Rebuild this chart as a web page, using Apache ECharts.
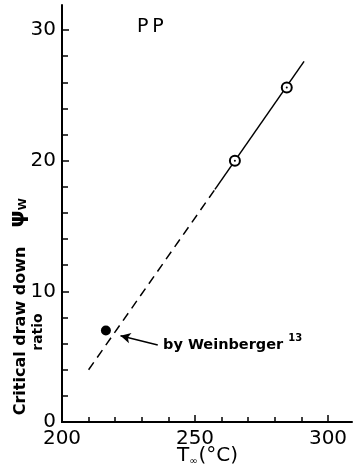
<!DOCTYPE html>
<html><head><meta charset="utf-8">
<script src="https://cdn.jsdelivr.net/npm/echarts@6/dist/echarts.min.js"></script>
<style>html,body{margin:0;padding:0;background:#fff}#c{width:357px;height:472px}</style>
</head><body><div id="c"></div>
<script>
// ---- data ----
const openPoints = [[265, 20.0], [284.5, 25.6]];
const filledPoints = [[216.5, 7.0]];
const dashedFit = [[210, 4.0], [257.5, 17.8]];
const solidFit = [[257.5, 17.8], [291, 27.6]];
const xLabelValues = [200, 250, 300];
const yLabelValues = [0, 10, 20, 30];
const arrowFrom = [236, 5.9];
const arrowTo = [222, 6.6];

const FONT = 'DejaVu Sans';
const chart = echarts.init(document.getElementById('c'), null, {renderer: 'canvas'});
const axisLineStyle = {color: '#000', width: 2};

chart.setOption({
  animation: false,
  backgroundColor: '#fff',
  grid: [
    {left: 62, right: 29, top: 30, bottom: 50},
    {left: 62, right: 5, top: 5, bottom: 50}
  ],
  xAxis: [
    {gridIndex: 0, type: 'value', min: 200, max: 300, interval: 50,
     axisLine: {show: true, lineStyle: axisLineStyle},
     axisTick: {show: true, inside: true, length: 7, lineStyle: {color: '#000', width: 1.5}},
     minorTick: {show: true, splitNumber: 5, length: 5, lineStyle: {color: '#000', width: 1.5}},
     splitLine: {show: false},
     axisLabel: {color: '#000', fontFamily: FONT, fontSize: 20, margin: 7,
       formatter: v => xLabelValues.includes(v) ? String(v) : ''}},
    {gridIndex: 1, type: 'value', min: 0, max: 1, show: true,
     axisLine: {show: true, lineStyle: axisLineStyle}, axisTick: {show: false},
     axisLabel: {show: false}, splitLine: {show: false}}
  ],
  yAxis: [
    {gridIndex: 0, type: 'value', min: 0, max: 30, interval: 10,
     axisLine: {show: true, lineStyle: axisLineStyle},
     axisTick: {show: true, inside: true, length: 7, lineStyle: {color: '#000', width: 1.5}},
     minorTick: {show: true, splitNumber: 5, length: 6, lineStyle: {color: '#000', width: 1.5}},
     splitLine: {show: false},
     axisLabel: {color: '#000', fontFamily: FONT, fontSize: 20, margin: 6,
       formatter: v => yLabelValues.includes(v) ? String(v) : ''}},
    {gridIndex: 1, type: 'value', min: 0, max: 1, show: true,
     axisLine: {show: true, lineStyle: axisLineStyle}, axisTick: {show: false},
     axisLabel: {show: false}, splitLine: {show: false}}
  ],
  series: [
    {type: 'line', xAxisIndex: 0, yAxisIndex: 0, data: dashedFit, symbol: 'none',
     lineStyle: {color: '#000', width: 1.5, type: [9, 6]}, z: 2},
    {type: 'line', xAxisIndex: 0, yAxisIndex: 0, data: solidFit, symbol: 'none',
     lineStyle: {color: '#000', width: 1.5}, z: 2},
    {type: 'scatter', xAxisIndex: 0, yAxisIndex: 0, data: openPoints, symbol: 'circle',
     symbolSize: 10, itemStyle: {color: '#fff', borderColor: '#000', borderWidth: 2, opacity: 1}, z: 3},
    {type: 'scatter', xAxisIndex: 0, yAxisIndex: 0, data: openPoints, symbol: 'circle',
     symbolSize: 2, itemStyle: {color: '#000', opacity: 1}, z: 4},
    {type: 'scatter', xAxisIndex: 0, yAxisIndex: 0, data: filledPoints, symbol: 'circle',
     symbolSize: 10, itemStyle: {color: '#000', opacity: 1}, z: 3,
     markLine: {silent: true, symbol: ['none', 'arrow'], symbolSize: [8, 10],
       label: {show: false},
       lineStyle: {color: '#000', width: 1.5, type: 'solid', opacity: 1},
       data: [[{coord: arrowFrom}, {coord: arrowTo}]]}}
  ],
  graphic: [
    {type: 'text', left: 137, top: 18, style: {text: 'P\u2009P', font: '19px "DejaVu Sans"', fill: '#000'}},
    {type: 'text', x: 21, y: 331, rotation: Math.PI / 2,
     style: {text: 'Critical draw down', font: 'bold 16px "DejaVu Sans"', fill: '#000',
       align: 'center', verticalAlign: 'middle'}},
    {type: 'text', x: 38, y: 332, rotation: Math.PI / 2,
     style: {text: 'ratio', font: 'bold 14px "DejaVu Sans"', fill: '#000',
       align: 'center', verticalAlign: 'middle'}},
    {type: 'text', x: 18, y: 213, rotation: Math.PI / 2,
     style: {text: 'ψ{s|W}', font: 'bold 22px "DejaVu Sans"', fill: '#000',
       align: 'center', verticalAlign: 'middle',
       rich: {s: {font: 'bold 11px "DejaVu Sans"', fill: '#000', verticalAlign: 'bottom', padding: [8, 0, 0, 0]}}}},
    {type: 'text', left: 163, top: 333,
     style: {text: 'by Weinberger{sup|13}', font: 'bold 14.5px "DejaVu Sans"', fill: '#000',
       rich: {sup: {font: 'bold 10px "DejaVu Sans"', fill: '#000', padding: [0, 0, 14, 5]}}}},
    {type: 'text', left: 177, top: 446,
     style: {text: 'T{s|∞}(°C)', font: '20px "DejaVu Sans"', fill: '#000',
       rich: {s: {font: '10px "DejaVu Sans"', fill: '#000', padding: [10, 1, 0, 0]}}}}
  ]
});
</script></body></html>
